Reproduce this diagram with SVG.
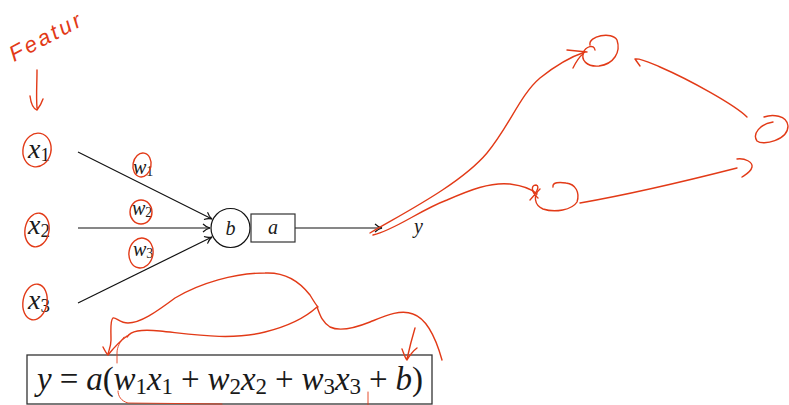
<svg xmlns="http://www.w3.org/2000/svg" width="789" height="405" viewBox="0 0 789 405">
<defs>
<style>
.bk{fill:none;stroke:#111;stroke-width:1.2}
.rd{fill:none;stroke:#e23a17;stroke-width:1.4;stroke-linecap:round;stroke-linejoin:round}
.rt{fill:none;stroke:#e23a17;stroke-width:0.9;stroke-linecap:round}
.m{font-family:"Liberation Serif","DejaVu Serif",serif;fill:#1a1a1a}
.i{font-style:italic}
</style>
<marker id="ah" viewBox="0 0 10 10" refX="9" refY="5" markerWidth="10" markerHeight="10" markerUnits="userSpaceOnUse" orient="auto">
<path d="M2,1 C4,3 7,4.5 9,5 C7,5.5 4,7 2,9" fill="none" stroke="#111" stroke-width="1.1"/>
</marker>
</defs>
<rect width="789" height="405" fill="#fff"/>

<g id="connectors">
<line class="bk" x1="78" y1="152" x2="212" y2="219" marker-end="url(#ah)"/>
<line class="bk" x1="78" y1="228" x2="210" y2="228" marker-end="url(#ah)"/>
<line class="bk" x1="78" y1="303" x2="212" y2="237" marker-end="url(#ah)"/>
<line class="bk" x1="295" y1="228" x2="382" y2="228" marker-end="url(#ah)"/>
</g>

<g id="x1"><text class="m" x="28" y="158" font-size="28"><tspan class="i">x</tspan><tspan font-size="19" dy="3">1</tspan></text></g>
<g id="x2"><text class="m" x="28" y="234" font-size="28"><tspan class="i">x</tspan><tspan font-size="19" dy="3">2</tspan></text></g>
<g id="x3"><text class="m" x="28" y="309" font-size="28"><tspan class="i">x</tspan><tspan font-size="19" dy="3">3</tspan></text></g>

<g id="w1"><text class="m" x="133" y="174" font-size="20"><tspan class="i">w</tspan><tspan font-size="14" dy="2">1</tspan></text></g>
<g id="w2"><text class="m" x="132" y="215" font-size="20"><tspan class="i">w</tspan><tspan font-size="14" dy="2">2</tspan></text></g>
<g id="w3"><text class="m" x="133" y="256" font-size="20"><tspan class="i">w</tspan><tspan font-size="14" dy="2">3</tspan></text></g>

<g id="neuron">
<circle class="bk" cx="230.5" cy="228" r="19.5"/>
<text class="m i" x="230.5" y="235" font-size="20" text-anchor="middle">b</text>
</g>
<g id="activation">
<rect x="251" y="214" width="44" height="28" fill="none" stroke="#333" stroke-width="1.2"/>
<text class="m i" x="273" y="234" font-size="20" text-anchor="middle">a</text>
</g>
<g id="output">
<text class="m i" x="414" y="233" font-size="20">y</text>
</g>

<g id="equation">
<rect x="27" y="355" width="405" height="49" fill="none" stroke="#333" stroke-width="1.3"/>
<text class="m" x="37" y="390" font-size="33" textLength="386" lengthAdjust="spacing"><tspan class="i">y</tspan> = <tspan class="i">a</tspan>(<tspan class="i">w</tspan><tspan font-size="23" dy="4">1</tspan><tspan class="i" dy="-4">x</tspan><tspan font-size="23" dy="4">1</tspan><tspan dy="-4"> + </tspan><tspan class="i">w</tspan><tspan font-size="23" dy="4">2</tspan><tspan class="i" dy="-4">x</tspan><tspan font-size="23" dy="4">2</tspan><tspan dy="-4"> + </tspan><tspan class="i">w</tspan><tspan font-size="23" dy="4">3</tspan><tspan class="i" dy="-4">x</tspan><tspan font-size="23" dy="4">3</tspan><tspan dy="-4"> + </tspan><tspan class="i">b</tspan>)</text>
</g>

<g id="annotations">
<text x="14" y="62" transform="rotate(-28 14 62)" font-family="Liberation Sans, sans-serif" font-style="italic" font-size="22" fill="#e23a17" textLength="78" lengthAdjust="spacing">Featur</text>
<path class="rd" d="M37,70 C37,85 36,95 37,108 M30,96 C31,104 34,109 37,110 C40,106 42,102 43,99"/>
<ellipse class="rd" cx="37" cy="150" rx="14" ry="17" transform="rotate(12 37 150)"/>
<ellipse class="rd" cx="37" cy="230" rx="12" ry="17" transform="rotate(10 37 230)"/>
<ellipse class="rd" cx="35" cy="302" rx="12" ry="18" transform="rotate(10 35 302)"/>
<ellipse class="rd" cx="142" cy="165" rx="9" ry="12" transform="rotate(10 142 165)"/>
<ellipse class="rd" cx="141" cy="212" rx="11" ry="12"/>
<ellipse class="rd" cx="141" cy="253" rx="12" ry="15" transform="rotate(10 141 253)"/>

<path class="rd" d="M370,233 C400,215 460,185 487,153 C510,125 520,95 540,78 C555,66 570,57 585,52"/>
<path class="rd" d="M567,50 L587,52 M573,68 C576,62 579,57 583,54"/>
<path class="rd" d="M583,53 C586,46 594,44 595,50 M590,45 C588,36 612,31 617,40 C621,52 614,64 599,66 C587,67 580,60 584,52"/>

<path class="rd" d="M373,235 C395,230 420,210 447,200 C470,190 490,182 510,184 C525,186 533,190 537,194"/>
<path class="rd" d="M530,200 C535,195 541,186 536,185 C530,185 532,193 538,198"/>
<path class="rd" d="M553,187 C552,182 560,182 566,183 C576,184 580,193 577,202 C572,210 555,213 543,209 C534,205 533,195 540,189"/>
<path class="rd" d="M580,203 C620,196 690,180 737,168"/>
<path class="rd" d="M737,159 C745,158 753,162 752,167 C751,172 745,175 742,177"/>
<path class="rd" d="M773,122 C760,124 752,134 757,141 C763,146 788,140 788,126 C787,115 772,114 764,117"/>
<path class="rd" d="M747,117 C735,105 690,80 660,67 C648,62 640,58 635,59 L640,66"/>

<path class="rd" d="M108,354 C109,350 111,346 111,340 C111,330 110,320 113,318 C116,317 120,323 128,323 C140,323 155,313 175,298 C200,283 235,273 265,273 C285,272 300,282 310,295 C313,300 316,305 318,307"/>
<path class="rd" d="M103,347 C105,351 107,354 108,355 C112,350 120,341 127,336"/>
<path class="rd" d="M127,337 C131,331 140,329 160,331 C190,334 230,341 265,332 C285,327 305,318 317,307 C320,315 322,322 330,327 C340,332 355,328 370,322 C385,316 400,309 413,314 C425,318 435,335 442,360"/>
<path class="rd" d="M415,328 C412,338 409,350 407,359 M402,349 C404,354 405,358 407,360 C410,355 413,351 417,348"/>
<path class="rt" d="M124,337 C120,342 117,347 117,353 L117,363 M118,391 C118,396 121,401 128,403 L222,404"/>
<path class="rt" d="M368,392 L368,405"/>
</g>
</svg>
